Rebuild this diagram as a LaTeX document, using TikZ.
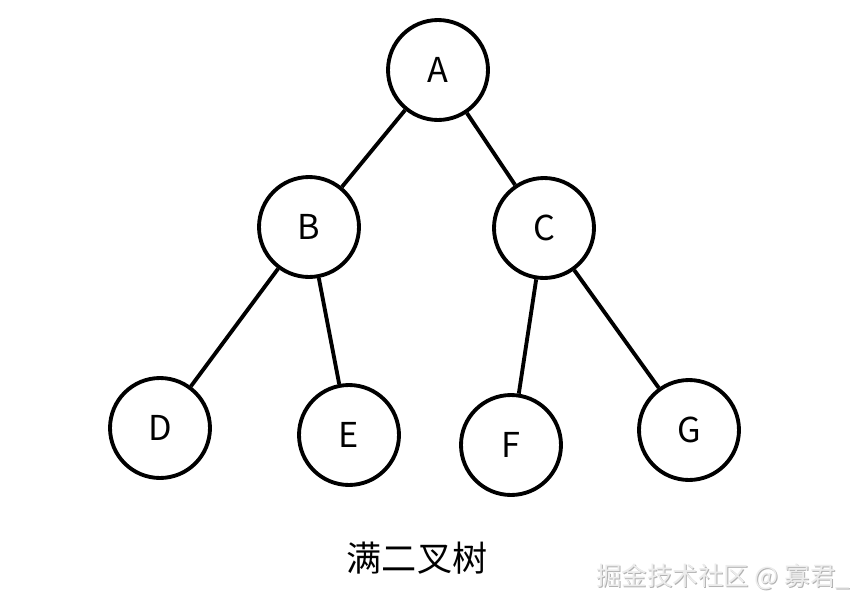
\documentclass[tikz,border=0pt]{standalone}
\usepackage{fontspec}
\setmainfont{Noto Sans CJK SC}
\usetikzlibrary{calc}

\tikzset{
  treenode/.style={draw, circle, line width=2.2pt, minimum size=2cm, inner sep=0pt, font=\fontsize{19.5}{22}\selectfont},
  treeedge/.style={line width=2.2pt}
}

\begin{document}
\begin{tikzpicture}[x=0.02cm, y=-0.02cm]
  \useasboundingbox (0,0) rectangle (866,609);

  % Nodes of the tree
  \node[treenode] (A) at (438,70) {A};
  \node[treenode] (B) at (309,227) {B};
  \node[treenode] (C) at (544,228) {C};
  \node[treenode] (D) at (160,428) {D};
  \node[treenode] (E) at (349,435) {E};
  \node[treenode] (F) at (511,445) {F};
  \node[treenode] (G) at (689,430) {G};

  % Edges
  \draw[treeedge] (A) -- (B);
  \draw[treeedge] (A) -- (C);
  \draw[treeedge] (B) -- (D);
  \draw[treeedge] (B) -- (E);
  \draw[treeedge] (C) -- (F);
  \draw[treeedge] (C) -- (G);

  % Caption
  \node[font=\fontsize{20}{24}\selectfont] (caption) at (417,558) {满二叉树};

  % Watermark
  \node[text=gray!60, font=\fontsize{14.5}{17}\selectfont] (markshadow) at (724,578) {掘金技术社区 @ 寡君\_};
  \node[text=gray!15, font=\fontsize{14.5}{17}\selectfont] (mark) at (723,577) {掘金技术社区 @ 寡君\_};
\end{tikzpicture}
\end{document}
